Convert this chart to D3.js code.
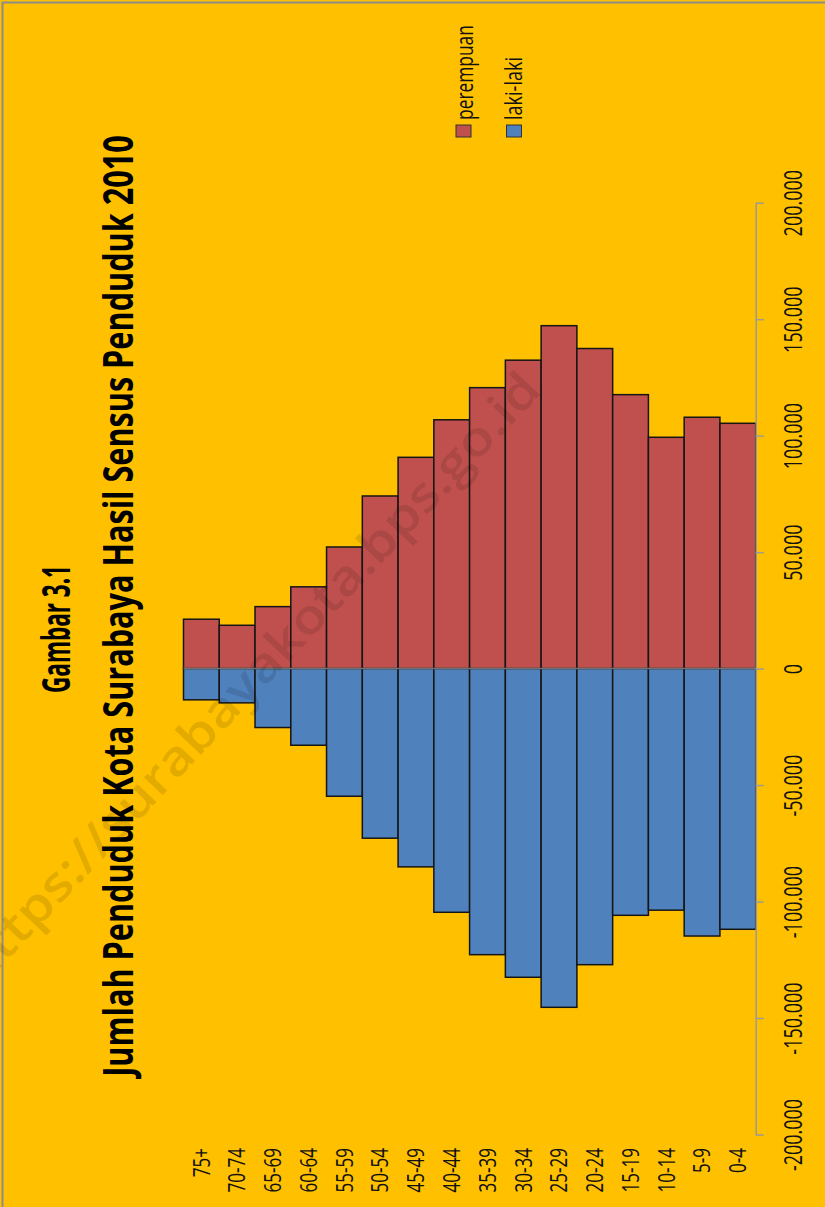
<!DOCTYPE html>
<html>
<head>
<meta charset="utf-8">
<script src="https://cdn.jsdelivr.net/npm/d3@7"></script>
<style>
  html, body { margin: 0; padding: 0; background: #FFC000; }
  svg { display: block; }
  text { font-family: "Open Sans", "Liberation Sans", sans-serif; }
</style>
</head>
<body>
<svg id="chart" width="825" height="1207"></svg>
<script>
// ---- data ----
const categories = ["75+","70-74","65-69","60-64","55-59","50-54","45-49","40-44","35-39","30-34","25-29","20-24","15-19","10-14","5-9","0-4"];
const perempuan = [21200, 18600, 26600, 35100, 52200, 74100, 90700, 106800, 120600, 132400, 147200, 137400, 117600, 99300, 107900, 105300];
const lakiLaki  = [13400, 14700, 25300, 32900, 54800, 72800, 85100, 104600, 122800, 132500, 145400, 127100, 105900, 103700, 114800, 111900];
const valueTicks = [-200000, -150000, -100000, -50000, 0, 50000, 100000, 150000, 200000];
const seriesNames = ["perempuan", "laki-laki"];
const titleLine1 = "Gambar 3.1";
const titleLine2 = "Jumlah Penduduk Kota Surabaya Hasil Sensus Penduduk 2010";
const watermark = "https://surabayakota.bps.go.id";

// ---- styles ----
const RED = "#C0504D", BLUE = "#4F81BD", BG = "#FFC000";
const K = 0.72; // squeeze of glyphs along the text direction (source text was stretched)

const svg = d3.select("#chart");
svg.append("rect").attr("width", 825).attr("height", 1207).attr("fill", BG);
// outer border (only top and left visible)
svg.append("rect").attr("x", 2.5).attr("y", 2.5).attr("width", 900).attr("height", 1300)
  .attr("fill", "none").attr("stroke", "#8c8c8c").attr("stroke-width", 2);

const x = d3.scaleBand().domain(categories).range([183.5, 755.7]).padding(0);
const y = d3.scaleLinear().domain([-200000, 200000]).range([1134.5, 202.7]);

const locale = d3.formatLocale({decimal: ",", thousands: ".", grouping: [3], currency: ["", ""], minus: "-"});
const fmt = locale.format(",");

// helper: rotated text squeezed to a target length along its direction
function rotText(str, px, py, size, weight, anchor, targetLen) {
  const t = svg.append("text").text(str)
    .attr("font-size", size).attr("font-weight", weight).attr("fill", "#111")
    .attr("text-anchor", anchor);
  const natural = t.node().getComputedTextLength() || 1;
  const k = targetLen / natural;
  t.attr("transform", `translate(${px},${py}) rotate(-90) scale(${k},1)`);
  return t;
}

// bars
const gBars = svg.append("g");
gBars.selectAll("rect.f").data(categories).join("rect")
  .attr("class", "f")
  .attr("x", d => x(d))
  .attr("width", x.bandwidth())
  .attr("y", (d, i) => y(perempuan[i]))
  .attr("height", (d, i) => y(0) - y(perempuan[i]))
  .attr("fill", RED).attr("stroke", "#151515").attr("stroke-width", 1.5);
gBars.selectAll("rect.m").data(categories).join("rect")
  .attr("class", "m")
  .attr("x", d => x(d))
  .attr("width", x.bandwidth())
  .attr("y", y(0))
  .attr("height", (d, i) => y(-lakiLaki[i]) - y(0))
  .attr("fill", BLUE).attr("stroke", "#151515").attr("stroke-width", 1.5);

// zero line
svg.append("line").attr("x1", x.range()[0]).attr("x2", x.range()[1])
  .attr("y1", y(0)).attr("y2", y(0))
  .attr("stroke", "#8a8a8a").attr("stroke-width", 1.5).attr("opacity", 0.8);

// value axis (right)
const gAxis = svg.append("g").attr("transform", `translate(${x.range()[1]},0)`)
  .call(d3.axisRight(y).tickValues(valueTicks).tickSize(8).tickFormat(fmt).tickSizeOuter(0));
gAxis.select(".domain").attr("stroke", "#9a9a9a").attr("stroke-width", 1.5);
gAxis.selectAll(".tick line").attr("stroke", "#9a9a9a").attr("stroke-width", 1.5);
gAxis.selectAll(".tick text")
  .attr("x", 0).attr("dy", 0).attr("text-anchor", "middle")
  .attr("font-size", 25).attr("fill", "#111")
  .attr("font-family", "'Open Sans', sans-serif")
  .attr("transform", `translate(46,0) rotate(-90) scale(${K},1)`);

// category labels
const gCat = svg.append("g").attr("transform", "translate(0,1148)")
  .call(d3.axisBottom(x).tickSize(0).tickSizeOuter(0));
gCat.select(".domain").remove();
gCat.selectAll(".tick text")
  .attr("x", 0).attr("y", 0).attr("dy", 0).attr("text-anchor", "end")
  .attr("font-size", 23.4).attr("fill", "#111")
  .attr("font-family", "'Open Sans', sans-serif")
  .attr("transform", `translate(8.3,0) rotate(-90) scale(0.73,1)`);

// titles
rotText(titleLine2, 133, 606, 41, 700, "middle", 942).attr("fill", "#000");
rotText(titleLine1, 70, 629, 39, 700, "middle", 128).attr("fill", "#000");

// legend
const legend = [
  {name: seriesNames[0], color: RED, sx: 456, base: 472.5, len: 95},
  {name: seriesNames[1], color: BLUE, sx: 506.5, base: 522, len: 63}
];
legend.forEach(l => {
  svg.append("rect").attr("x", l.sx).attr("y", 125).attr("width", 15).attr("height", 12)
    .attr("fill", l.color).attr("stroke", "#333").attr("stroke-width", 1);
  rotText(l.name, l.base, 120, 23, 400, "start", l.len);
});

// watermark
const wm = svg.append("text").text(watermark)
  .attr("font-weight", 600).attr("font-size", 48)
  .attr("fill", "#000").attr("fill-opacity", 0.11)
  .attr("text-anchor", "middle");
const wmK = 820 / (wm.node().getComputedTextLength() || 820);
wm.attr("transform", `translate(262,690) rotate(-46.7) scale(${wmK},1)`);
</script>
</body>
</html>
